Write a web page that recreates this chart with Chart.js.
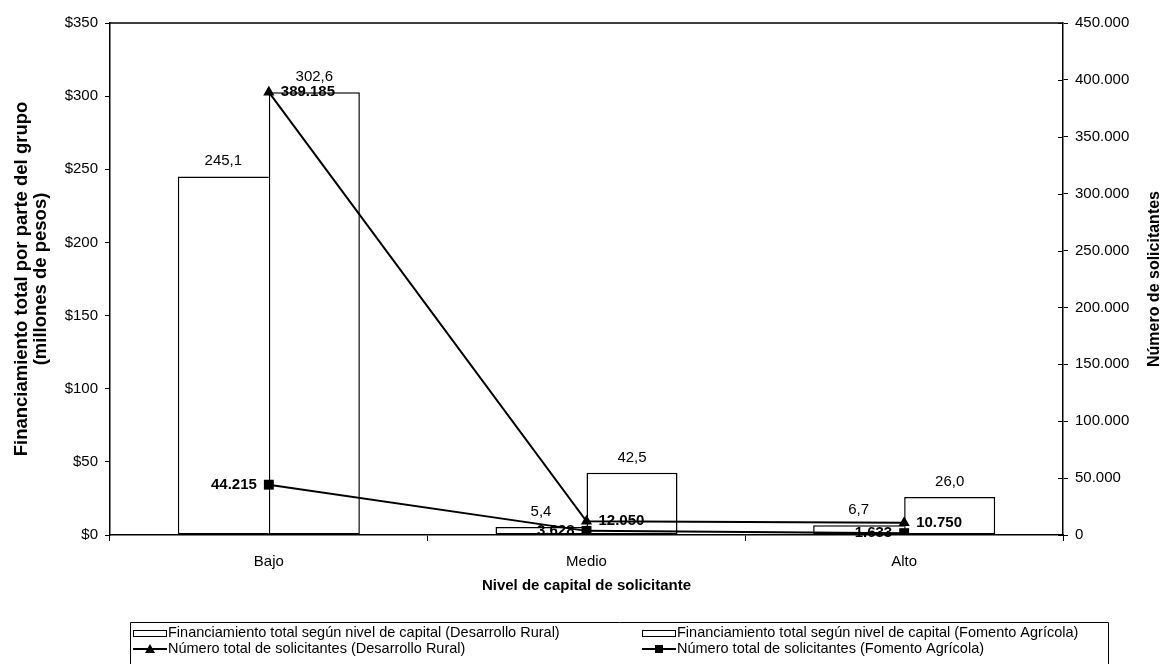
<!DOCTYPE html>
<html><head><meta charset="utf-8">
<script src="https://cdn.jsdelivr.net/npm/chart.js@4/dist/chart.umd.min.js"></script>
<style>html,body{margin:0;padding:0;background:#fff}canvas{display:block}</style>
</head><body>
<canvas id="c" width="1166" height="664"></canvas>
<script>
const categories = ['Bajo', 'Medio', 'Alto'];
const financDR = [245.1, 5.4, 6.7];
const financFA = [302.6, 42.5, 26.0];
const solicDR = [389185, 12050, 10750];
const solicFA = [44215, 3628, 1633];
const seriesNames = [
  'Financiamiento total según nivel de capital (Desarrollo Rural)',
  'Financiamiento total según nivel de capital (Fomento Agrícola)',
  'Número total de solicitantes (Desarrollo Rural)',
  'Número total de solicitantes (Fomento Agrícola)'
];
const xTitle = 'Nivel de capital de solicitante';
const yTitle = ['Financiamiento total por parte del grupo', '(millones de pesos)'];
const y2Title = 'Número de solicitantes';

const FONT = "'Liberation Sans', Arial, sans-serif";
const fmtDec = v => v.toFixed(1).replace('.', ',');
const fmtThou = v => String(Math.round(v)).replace(/\B(?=(\d{3})+(?!\d))/g, '.');

const frame = {
  id: 'frame',
  beforeDatasetsDraw(chart) {
    const a = chart.chartArea, ctx = chart.ctx;
    ctx.save();
    ctx.strokeStyle = '#000'; ctx.lineWidth = 1.5;
    ctx.beginPath(); ctx.moveTo(a.left, a.top); ctx.lineTo(a.right, a.top); ctx.stroke();
    // inner tick marks on the right axis
    ctx.lineWidth = 1;
    const s = chart.scales.y2;
    s.ticks.forEach((t, i) => {
      const y = Math.round(s.getPixelForTick(i)) + 0.5;
      ctx.beginPath(); ctx.moveTo(a.right - 5, y); ctx.lineTo(a.right, y); ctx.stroke();
    });
    ctx.restore();
  },
  afterDatasetsDraw(chart) {
    const ctx = chart.ctx;
    ctx.save();
    ctx.fillStyle = '#000';
    chart.data.datasets.forEach((ds, i) => {
      const meta = chart.getDatasetMeta(i);
      meta.data.forEach((el, j) => {
        const v = ds.data[j];
        if (i < 2) {
          ctx.font = `15px ${FONT}`; ctx.textAlign = 'center'; ctx.textBaseline = 'alphabetic';
          ctx.fillText(fmtDec(v), el.x, el.y - 11);
        } else if (i === 2) {
          ctx.font = `bold 15px ${FONT}`; ctx.textAlign = 'left'; ctx.textBaseline = 'middle';
          ctx.fillText(fmtThou(v), el.x + 12, el.y);
        } else {
          ctx.font = `bold 15px ${FONT}`; ctx.textAlign = 'right'; ctx.textBaseline = 'middle';
          ctx.fillText(fmtThou(v), el.x - 12, el.y);
        }
      });
    });
    ctx.restore();
  },
  afterDraw(chart) {
    const ctx = chart.ctx, a = chart.chartArea;
    ctx.save();
    // right axis title (reads bottom to top)
    ctx.font = `bold 16px ${FONT}`; ctx.fillStyle = '#000';
    ctx.textAlign = 'center'; ctx.textBaseline = 'middle';
    ctx.translate(1155, (a.top + a.bottom) / 2); ctx.rotate(-Math.PI / 2);
    ctx.fillText(y2Title, 0, 0);
    ctx.restore();
    // legend
    ctx.save();
    ctx.strokeStyle = '#000'; ctx.lineWidth = 1; ctx.fillStyle = '#000';
    const L = 130.5, T = 622.5, R = 1108.5;
    ctx.beginPath(); ctx.moveTo(L, 670); ctx.lineTo(L, T); ctx.lineTo(R, T); ctx.lineTo(R, 670); ctx.stroke();
    ctx.font = `14.5px ${FONT}`; ctx.textAlign = 'left'; ctx.textBaseline = 'middle';
    const cols = [133, 642], rows = [633, 649];
    seriesNames.forEach((name, k) => {
      const cx = cols[k % 2], cy = rows[Math.floor(k / 2)];
      if (k < 2) {
        ctx.fillStyle = '#fff'; ctx.fillRect(cx, cy - 3, 33, 6);
        ctx.strokeRect(cx + 0.5, cy - 3 + 0.5, 33, 6);
      } else {
        ctx.lineWidth = 2;
        ctx.beginPath(); ctx.moveTo(cx, cy); ctx.lineTo(cx + 34, cy); ctx.stroke();
        ctx.lineWidth = 1;
        ctx.fillStyle = '#000';
        const mx = cx + 17;
        if (k === 2) {
          ctx.beginPath(); ctx.moveTo(mx, cy - 5); ctx.lineTo(mx + 5, cy + 4); ctx.lineTo(mx - 5, cy + 4); ctx.closePath(); ctx.fill();
        } else {
          ctx.fillRect(mx - 4, cy - 4, 8, 8);
        }
      }
      ctx.fillStyle = '#000';
      ctx.fillText(name, cx + 35, cy);
    });
    ctx.restore();
  }
};

const tickFont = { family: FONT, size: 15 };
new Chart(document.getElementById('c'), {
  type: 'bar',
  data: {
    labels: categories,
    datasets: [
      { type: 'bar', label: seriesNames[0], data: financDR, yAxisID: 'y', backgroundColor: '#fff', borderColor: '#000', borderWidth: 1.5, borderSkipped: 'right', categoryPercentage: 0.573, barPercentage: 1, order: 2 },
      { type: 'bar', label: seriesNames[1], data: financFA, yAxisID: 'y', backgroundColor: '#fff', borderColor: '#000', borderWidth: 1.5, borderSkipped: false, categoryPercentage: 0.573, barPercentage: 1, order: 2 },
      { type: 'line', label: seriesNames[2], data: solicDR, yAxisID: 'y2', borderColor: '#000', borderWidth: 2, tension: 0, pointStyle: 'triangle', pointRadius: 6.5, pointBackgroundColor: '#000', pointBorderColor: '#000', pointBorderWidth: 0, order: 0 },
      { type: 'line', label: seriesNames[3], data: solicFA, yAxisID: 'y2', borderColor: '#000', borderWidth: 2, tension: 0, pointStyle: 'rect', pointRadius: 7, pointBackgroundColor: '#000', pointBorderColor: '#000', pointBorderWidth: 0, order: 1 }
    ]
  },
  options: {
    responsive: false, animation: false, devicePixelRatio: 1,
    layout: { padding: { top: 23, left: 0, right: 0, bottom: 64 } },
    plugins: { legend: { display: false }, tooltip: { enabled: false } },
    scales: {
      x: {
        offset: true,
        grid: { offset: true, drawOnChartArea: false, color: '#000', tickLength: 6 },
        border: { color: '#000', width: 1.5 },
        ticks: { color: '#000', font: tickFont, padding: 12 },
        title: { display: true, text: xTitle, color: '#000', font: { family: FONT, size: 15, weight: 'bold' }, padding: { top: 0, bottom: 5 } },
        afterFit(s) { s.height = 65; }
      },
      y: {
        position: 'left', min: 0, max: 350,
        grid: { drawOnChartArea: false, color: '#000', tickLength: 5 },
        border: { color: '#000', width: 1.5 },
        ticks: { stepSize: 50, color: '#000', font: tickFont, padding: 7, callback: v => '$' + v },
        title: { display: true, text: yTitle, color: '#000', font: { family: FONT, size: 18.5, weight: 'bold', lineHeight: 1.0 }, padding: { top: 13, bottom: 0 } },
        afterFit(s) { s.width = 110; }
      },
      y2: {
        position: 'right', min: 0, max: 450000,
        grid: { drawOnChartArea: false, color: '#000', tickLength: 5 },
        border: { color: '#000', width: 1.5 },
        ticks: { stepSize: 50000, color: '#000', font: tickFont, padding: 7, callback: v => fmtThou(v) },
        afterFit(s) { s.width = 103; }
      }
    }
  },
  plugins: [frame]
});
</script>
</body></html>
